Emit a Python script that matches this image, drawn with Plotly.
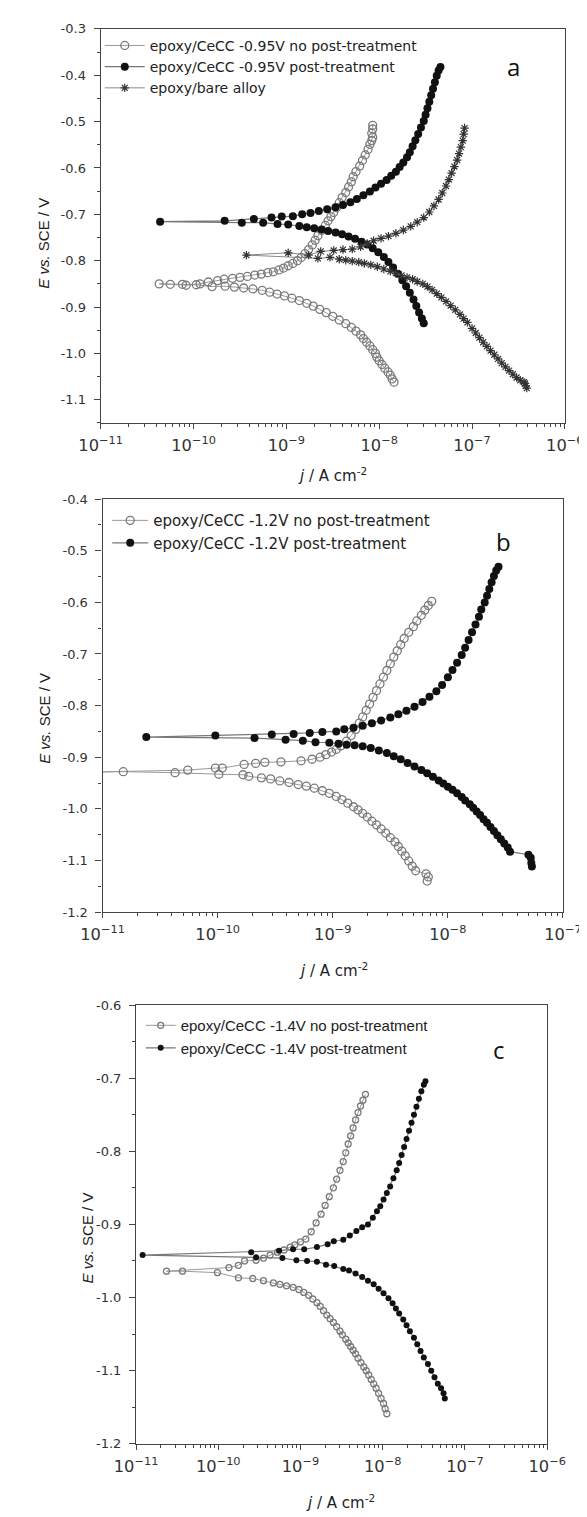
import numpy as np
import plotly.graph_objects as go

# ---------------- Panel a (log10 j [A cm-2], E [V vs SCE]) ----------------
a_nopt_logj = [-7.84, -7.86, -7.88, -7.905, -7.94, -7.97, -8.00, -8.025, -8.04, -8.07, -8.10, -8.135, -8.17, -8.20,
               -8.25, -8.30, -8.36, -8.43, -8.50, -8.57, -8.64, -8.71, -8.78, -8.86, -8.94, -9.02, -9.10, -9.18,
               -9.26, -9.36, -9.46, -9.56, -9.66, -9.80, -9.97, -10.12, -10.37,
               -10.25, -10.08, -9.93, -9.84, -9.74, -9.67, -9.58, -9.50, -9.42, -9.34, -9.27, -9.20, -9.14, -9.08,
               -9.03, -8.98, -8.93, -8.88, -8.84, -8.80, -8.76, -8.72, -8.69, -8.66, -8.62, -8.58, -8.55, -8.52,
               -8.49, -8.46, -8.43, -8.40, -8.36, -8.33, -8.30, -8.28, -8.25, -8.21, -8.18, -8.15, -8.12, -8.10,
               -8.08, -8.07, -8.08, -8.07, -8.07]
a_nopt_E = [-1.062, -1.055, -1.047, -1.040, -1.032, -1.024, -1.016, -1.008, -1.000, -0.992, -0.984, -0.976, -0.968, -0.960,
            -0.952, -0.944, -0.936, -0.928, -0.920, -0.912, -0.905, -0.898, -0.892, -0.886, -0.881, -0.876, -0.872, -0.868,
            -0.864, -0.861, -0.859, -0.857, -0.855, -0.856, -0.852, -0.851, -0.850,
            -0.851, -0.853, -0.850, -0.846, -0.843, -0.840, -0.838, -0.836, -0.834, -0.831, -0.829, -0.826, -0.824, -0.820,
            -0.816, -0.811, -0.806, -0.800, -0.793, -0.785, -0.776, -0.766, -0.756, -0.746, -0.735, -0.724, -0.714, -0.705,
            -0.696, -0.686, -0.675, -0.664, -0.653, -0.641, -0.630, -0.619, -0.608, -0.596, -0.584, -0.572, -0.560, -0.549,
            -0.541, -0.534, -0.525, -0.516, -0.508]

a_pt_logj = [-7.52, -7.54, -7.57, -7.60, -7.63, -7.67, -7.71, -7.75, -7.80, -7.85, -7.90, -7.95, -8.01, -8.07, -8.13,
             -8.19, -8.26, -8.33, -8.40, -8.47, -8.55, -8.62, -8.70, -8.78, -8.86, -8.98, -9.095, -9.25, -9.48,
             -10.36,
             -9.665, -9.35, -9.16, -9.05, -8.93, -8.83, -8.74, -8.65, -8.56, -8.47, -8.39, -8.31, -8.24, -8.17, -8.10,
             -8.04, -7.98, -7.92, -7.87, -7.82, -7.78, -7.74, -7.70, -7.67, -7.64, -7.61, -7.58, -7.55, -7.52, -7.50,
             -7.48, -7.46, -7.44, -7.42, -7.40, -7.38, -7.36, -7.34]
a_pt_E = [-0.935, -0.925, -0.912, -0.898, -0.884, -0.869, -0.855, -0.842, -0.828, -0.815, -0.803, -0.792, -0.782, -0.773, -0.765,
          -0.759, -0.753, -0.748, -0.743, -0.739, -0.736, -0.733, -0.730, -0.728, -0.725, -0.722, -0.721, -0.718, -0.718,
          -0.716,
          -0.714, -0.710, -0.707, -0.705, -0.704, -0.700, -0.697, -0.693, -0.689, -0.685, -0.680, -0.674, -0.667, -0.659, -0.651,
          -0.642, -0.634, -0.626, -0.617, -0.608, -0.598, -0.588, -0.577, -0.566, -0.553, -0.540, -0.527, -0.513, -0.499, -0.485,
          -0.471, -0.457, -0.443, -0.429, -0.415, -0.401, -0.390, -0.382]

a_bare_logj = [-6.41, -6.43, -6.42, -6.44, -6.48, -6.52, -6.56, -6.60, -6.64, -6.68, -6.72, -6.76, -6.80, -6.84, -6.88,
               -6.92, -6.96, -7.00, -7.05, -7.09, -7.13, -7.18, -7.23, -7.28, -7.33, -7.38, -7.43, -7.48, -7.53, -7.59,
               -7.64, -7.70, -7.76, -7.82, -7.88, -7.95, -8.02, -8.09, -8.16, -8.22, -8.29, -8.36, -8.43, -8.53, -8.66,
               -9.43,
               -8.98, -8.76, -8.63, -8.49, -8.39, -8.29, -8.20, -8.13, -8.06, -7.98, -7.90, -7.82, -7.74, -7.66, -7.59,
               -7.52, -7.46, -7.41, -7.36, -7.32, -7.28, -7.25, -7.22, -7.19, -7.16, -7.14, -7.12, -7.10, -7.09, -7.08]
a_bare_E = [-1.075, -1.065, -1.070, -1.062, -1.058, -1.052, -1.045, -1.037, -1.029, -1.021, -1.012, -1.003, -0.994, -0.985, -0.976,
            -0.966, -0.956, -0.946, -0.933, -0.925, -0.916, -0.906, -0.897, -0.888, -0.879, -0.871, -0.863, -0.856, -0.850, -0.845,
            -0.840, -0.836, -0.832, -0.827, -0.823, -0.818, -0.813, -0.809, -0.806, -0.803, -0.801, -0.799, -0.797, -0.793, -0.795,
            -0.788,
            -0.783, -0.788, -0.780, -0.778, -0.776, -0.775, -0.770, -0.763, -0.757, -0.752, -0.747, -0.741, -0.734, -0.726, -0.717,
            -0.707, -0.695, -0.682, -0.668, -0.654, -0.639, -0.625, -0.611, -0.597, -0.583, -0.569, -0.555, -0.541, -0.527, -0.514]

# ---------------- Panel b ----------------
b_nopt_logj = [-8.18, -8.17, -8.19, -8.28, -8.31, -8.34, -8.37, -8.40, -8.43, -8.46, -8.50, -8.54, -8.58, -8.62, -8.66,
               -8.70, -8.74, -8.78, -8.82, -8.87, -8.92, -8.97, -9.03, -9.09, -9.16, -9.23, -9.30, -9.38, -9.46, -9.54,
               -9.62, -9.73, -9.78, -9.99, -10.37, -10.82, -11.15,
               -10.26, -10.02, -9.96, -9.77, -9.67, -9.59, -9.45, -9.275, -9.18, -9.11, -9.06, -9.01, -8.97, -8.93, -8.88,
               -8.84, -8.80, -8.77, -8.74, -8.71, -8.68, -8.65, -8.62, -8.59, -8.56, -8.53, -8.50, -8.47, -8.44, -8.41,
               -8.38, -8.34, -8.30, -8.27, -8.23, -8.20, -8.17, -8.14]
b_nopt_E = [-1.140, -1.132, -1.126, -1.120, -1.111, -1.101, -1.091, -1.082, -1.073, -1.064, -1.056, -1.047, -1.039, -1.031, -1.024,
            -1.016, -1.009, -1.002, -0.996, -0.989, -0.982, -0.976, -0.970, -0.965, -0.960, -0.956, -0.953, -0.949, -0.946, -0.942,
            -0.940, -0.937, -0.934, -0.933, -0.930, -0.928, -0.929,
            -0.925, -0.921, -0.921, -0.914, -0.912, -0.910, -0.909, -0.907, -0.904, -0.900, -0.895, -0.890, -0.885, -0.878, -0.869,
            -0.858, -0.846, -0.834, -0.822, -0.809, -0.797, -0.784, -0.771, -0.758, -0.745, -0.732, -0.719, -0.706, -0.694, -0.682,
            -0.670, -0.658, -0.647, -0.636, -0.625, -0.615, -0.606, -0.598]

b_pt_logj = [-7.275, -7.28, -7.27, -7.30, -7.46, -7.48, -7.51, -7.54, -7.57, -7.60, -7.63, -7.66, -7.69, -7.72, -7.75,
             -7.78, -7.81, -7.85, -7.88, -7.92, -7.96, -8.00, -8.04, -8.08, -8.13, -8.18, -8.23, -8.29, -8.35, -8.41,
             -8.47, -8.53, -8.60, -8.67, -8.74, -8.81, -8.88, -8.95, -9.03, -9.15, -9.26, -9.41, -9.68,
             -10.62,
             -10.02, -9.53, -9.34, -9.20, -9.09, -8.97, -8.90, -8.82, -8.74, -8.66, -8.58, -8.50, -8.43, -8.36, -8.29,
             -8.22, -8.16, -8.10, -8.05, -8.00, -7.96, -7.92, -7.88, -7.85, -7.82, -7.79, -7.76, -7.73, -7.71, -7.68,
             -7.66, -7.64, -7.62, -7.60, -7.58, -7.56]
b_pt_E = [-1.105, -1.095, -1.112, -1.089, -1.083, -1.075, -1.067, -1.059, -1.051, -1.043, -1.035, -1.027, -1.020, -1.012, -1.005,
          -0.998, -0.991, -0.984, -0.977, -0.970, -0.963, -0.957, -0.951, -0.945, -0.938, -0.931, -0.925, -0.918, -0.911, -0.904,
          -0.898, -0.892, -0.887, -0.882, -0.879, -0.877, -0.876, -0.874, -0.872, -0.871, -0.868, -0.866, -0.863,
          -0.861,
          -0.858, -0.856, -0.855, -0.853, -0.851, -0.850, -0.846, -0.843, -0.839, -0.834, -0.829, -0.823, -0.817, -0.810, -0.802,
          -0.793, -0.783, -0.772, -0.760, -0.745, -0.731, -0.717, -0.702, -0.688, -0.673, -0.658, -0.643, -0.628, -0.614, -0.600,
          -0.587, -0.574, -0.561, -0.549, -0.538, -0.531]

# ---------------- Panel c ----------------
c_nopt_logj = [-7.95, -7.97, -7.99, -8.02, -8.05, -8.08, -8.11, -8.14, -8.17, -8.20, -8.23, -8.265, -8.30, -8.33, -8.36,
               -8.39, -8.42, -8.45, -8.49, -8.52, -8.56, -8.60, -8.64, -8.68, -8.72, -8.76, -8.80, -8.85, -8.90, -8.96,
               -9.02, -9.09, -9.17, -9.25, -9.33, -9.45, -9.58, -9.755, -10.01, -10.435, -10.63,
               -9.87, -9.755, -9.68, -9.54, -9.45, -9.37, -9.28, -9.20, -9.125, -9.07, -9.00, -8.935, -8.87, -8.81, -8.75,
               -8.70, -8.65, -8.60, -8.56, -8.52, -8.48, -8.45, -8.42, -8.39, -8.36, -8.33, -8.30, -8.27, -8.24, -8.21]
c_nopt_E = [-1.159, -1.152, -1.145, -1.138, -1.131, -1.124, -1.118, -1.112, -1.106, -1.100, -1.095, -1.089, -1.083, -1.077, -1.072,
            -1.067, -1.062, -1.057, -1.051, -1.046, -1.040, -1.034, -1.029, -1.024, -1.018, -1.012, -1.007, -1.002, -0.997, -0.993,
            -0.989, -0.986, -0.984, -0.982, -0.980, -0.977, -0.974, -0.973, -0.966, -0.964, -0.964,
            -0.959, -0.956, -0.950, -0.949, -0.946, -0.942, -0.938, -0.935, -0.931, -0.928, -0.924, -0.920, -0.910, -0.898, -0.886,
            -0.874, -0.862, -0.850, -0.838, -0.826, -0.814, -0.802, -0.790, -0.779, -0.768, -0.757, -0.747, -0.738, -0.730, -0.722]

c_pt_logj = [-7.245, -7.26, -7.29, -7.33, -7.37, -7.41, -7.45, -7.50, -7.54, -7.58, -7.62, -7.67, -7.71, -7.75, -7.80,
             -7.84, -7.88, -7.93, -7.99, -8.05, -8.11, -8.18, -8.25, -8.33, -8.41, -8.48, -8.59, -8.69, -8.80, -8.92,
             -9.05, -9.22, -9.54, -10.92,
             -9.60, -9.26, -9.09, -8.955, -8.80, -8.67, -8.595, -8.48, -8.40, -8.32, -8.25, -8.18, -8.12, -8.07, -8.03,
             -7.99, -7.95, -7.91, -7.87, -7.83, -7.80, -7.77, -7.74, -7.71, -7.68, -7.65, -7.62, -7.59, -7.56, -7.53,
             -7.50, -7.48]
c_pt_E = [-1.138, -1.131, -1.124, -1.118, -1.109, -1.100, -1.091, -1.082, -1.073, -1.064, -1.055, -1.046, -1.038, -1.030, -1.022,
          -1.015, -1.008, -1.001, -0.994, -0.988, -0.982, -0.977, -0.972, -0.967, -0.963, -0.961, -0.957, -0.955, -0.951, -0.950,
          -0.949, -0.946, -0.945, -0.942,
          -0.938, -0.936, -0.934, -0.934, -0.931, -0.927, -0.923, -0.921, -0.915, -0.909, -0.904, -0.900, -0.891, -0.882, -0.875,
          -0.866, -0.857, -0.848, -0.837, -0.826, -0.816, -0.805, -0.794, -0.783, -0.772, -0.761, -0.750, -0.739, -0.728, -0.718,
          -0.709, -0.704]

names_a = ["epoxy/CeCC -0.95V no post-treatment", "epoxy/CeCC -0.95V post-treatment", "epoxy/bare alloy"]
names_b = ["epoxy/CeCC -1.2V no post-treatment", "epoxy/CeCC -1.2V post-treatment"]
names_c = ["epoxy/CeCC -1.4V no post-treatment", "epoxy/CeCC -1.4V post-treatment"]

# tick values / labels (hyphen minus as in the original figure)
a_yticks = [-0.3, -0.4, -0.5, -0.6, -0.7, -0.8, -0.9, -1.0, -1.1]
b_yticks = [-0.4, -0.5, -0.6, -0.7, -0.8, -0.9, -1.0, -1.1, -1.2]
c_yticks = [-0.6, -0.7, -0.8, -0.9, -1.0, -1.1, -1.2]
a_xrange = [-11, -6]
b_xrange = [-11, -7]
c_xrange = [-11, -6]

W, H = 587, 1517
WIDE = "DejaVu Sans, Verdana, sans-serif"
ARIAL = "Liberation Sans, Arial, sans-serif"

fig = go.Figure()


def add(logj, E, name, style, xa, ya, leg, size=8):
    j = 10 ** np.array(logj)
    if style == "open":
        marker = dict(symbol="circle-open", size=size, color="#7a7a7a", line=dict(width=1.3))
        line = dict(color="#9a9a9a", width=1)
    elif style == "fill":
        marker = dict(symbol="circle", size=size, color="#111111", line=dict(width=0))
        line = dict(color="#777777", width=1.2)
    else:
        marker = dict(symbol="asterisk-open", size=size, color="#333333", line=dict(width=1.2, color="#333333"))
        line = dict(color="#888888", width=1)
    fig.add_trace(go.Scatter(x=j, y=E, name=name, mode="lines+markers", marker=marker, line=line,
                             xaxis=xa, yaxis=ya, legend=leg))


add(a_nopt_logj, a_nopt_E, names_a[0], "open", "x", "y", "legend")
add(a_pt_logj, a_pt_E, names_a[1], "fill", "x", "y", "legend")
add(a_bare_logj, a_bare_E, names_a[2], "star", "x", "y", "legend", size=7)
add(b_nopt_logj, b_nopt_E, names_b[0], "open", "x2", "y2", "legend2")
add(b_pt_logj, b_pt_E, names_b[1], "fill", "x2", "y2", "legend2")
add(c_nopt_logj, c_nopt_E, names_c[0], "open", "x3", "y3", "legend3", size=6)
add(c_pt_logj, c_pt_E, names_c[1], "fill", "x3", "y3", "legend3", size=6)


def px_x(px):
    return px / W


def px_y(py):
    return 1 - py / H


def xaxis(l, r, rng):
    return dict(type="log", range=rng, domain=[px_x(l), px_x(r)], dtick=1, exponentformat="power",
                showexponent="all", showline=True, linecolor="#444", linewidth=1.2, mirror=True,
                ticks="outside", ticklen=5, tickcolor="#444", showgrid=False, zeroline=False,
                ticklabelstandoff=3,
                minor=dict(ticks="outside", ticklen=3, tickcolor="#444", showgrid=False),
                tickfont=dict(family=WIDE, size=13, color="#333"))


def yaxis(t, b, rng, ticks, anchor):
    return dict(range=rng, domain=[px_y(b), px_y(t)], anchor=anchor,
                tickmode="array", tickvals=ticks, ticktext=["%.1f" % v for v in ticks],
                showline=True, linecolor="#444", linewidth=1.2, mirror=True,
                ticks="outside", ticklen=6, tickcolor="#444", showgrid=False, zeroline=False,
                ticklabelstandoff=5,
                minor=dict(ticks="outside", ticklen=3, tickcolor="#444", tickmode="linear",
                           tick0=-0.35, dtick=0.1, showgrid=False),
                tickfont=dict(family=WIDE, size=13, color="#333"))


fig.update_layout(
    width=W, height=H, margin=dict(l=0, r=0, t=0, b=0),
    paper_bgcolor="white", plot_bgcolor="white",
    font=dict(family=WIDE, color="#222"),
    xaxis=dict(**xaxis(76, 575, a_xrange), anchor="y"),
    yaxis=yaxis(14, 412, [-1.15, -0.3], a_yticks, "x"),
    xaxis2=dict(**xaxis(78, 573, b_xrange), anchor="y2"),
    yaxis2=yaxis(489, 906, [-1.2, -0.4], b_yticks, "x2"),
    xaxis3=dict(**xaxis(114, 556, c_xrange), anchor="y3"),
    yaxis3=yaxis(1000, 1443, [-1.2, -0.6], c_yticks, "x3"),
    legend=dict(x=px_x(75), y=px_y(15), xanchor="left", yanchor="top", bgcolor="rgba(0,0,0,0)",
                font=dict(family=WIDE, size=14, color="#222"), itemwidth=40),
    legend2=dict(x=px_x(83), y=px_y(494), xanchor="left", yanchor="top", bgcolor="rgba(0,0,0,0)",
                 font=dict(family=WIDE, size=15, color="#222"), itemwidth=36),
    legend3=dict(x=px_x(119), y=px_y(1004), xanchor="left", yanchor="top", bgcolor="rgba(0,0,0,0)",
                 font=dict(family=ARIAL, size=15, color="#222"), itemwidth=30),
    showlegend=True,
)

ann = []
# panel letters
for txt, x, y in [("a", 520, 52), ("b", 509, 532), ("c", 504, 1045)]:
    ann.append(dict(text=txt, x=px_x(x), y=px_y(y), xref="paper", yref="paper", showarrow=False,
                    xanchor="center", yanchor="middle",
                    font=dict(family="Open Sans, sans-serif", size=24, color="#111")))
# x titles
for x, y in [(325, 465), (326, 965), (334, 1502)]:
    ann.append(dict(text="<i>j</i> / A cm<sup>-2</sup>", x=px_x(x), y=px_y(y), xref="paper", yref="paper",
                    showarrow=False, xanchor="center", yanchor="middle",
                    font=dict(family=WIDE, size=15, color="#222")))
# y titles
for x, y in [(15, 230), (16, 710), (62, 1235)]:
    ann.append(dict(text="<i>E vs.</i> SCE / V", x=px_x(x), y=px_y(y), xref="paper", yref="paper",
                    showarrow=False, textangle=-90, xanchor="center", yanchor="middle",
                    font=dict(family=ARIAL, size=15, color="#222")))
fig.update_layout(annotations=ann)

fig.write_html("out.html")
